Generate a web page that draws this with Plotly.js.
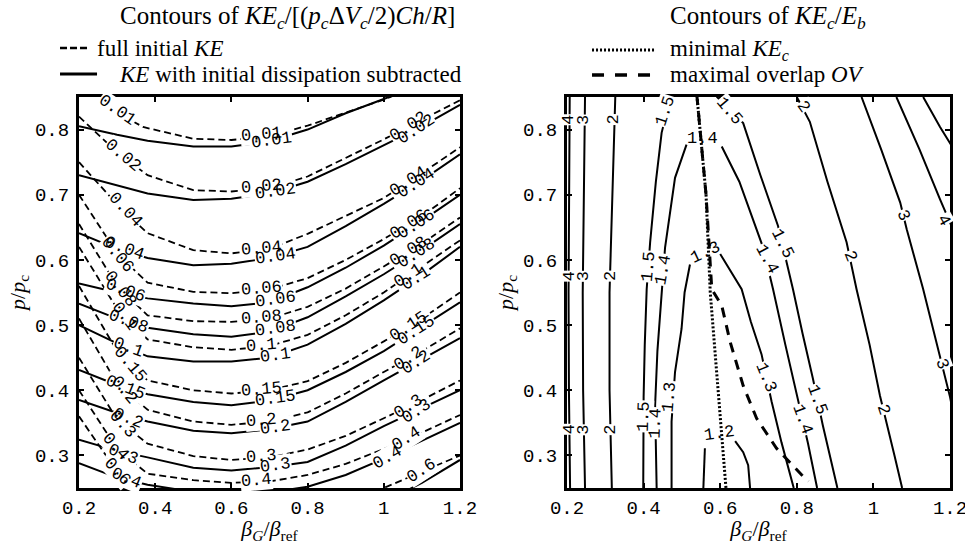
<!DOCTYPE html>
<html><head><meta charset="utf-8">
<script src="https://cdn.plot.ly/plotly-3.0.1.min.js"></script>
<style>html,body{margin:0;padding:0;background:#fff}#c{width:965px;height:544px}</style>
</head><body><div id="c"></div>
<script>
// ---------- LEFT PANEL DATA : KE_c / [(p_c dV_c/2) Ch/R] ----------
const levelsKE = ['0.01','0.02','0.04','0.06','0.08','0.1','0.15','0.2','0.3','0.4','0.6'];
const xsKE      = [0.2,0.3,0.38,0.5,0.6,0.7,0.8,0.9,1.0,1.1,1.2];
const xsFirstFull = [0.24,0.30,0.368,0.5,0.6,0.7,0.8,0.9,1.0,1.05];
const xsLastNet   = [0.9,1.0,1.1,1.2];
// full initial KE (dashed)
const fullKEy = [
  [0.87,0.826,0.804,0.786,0.784,0.79,0.806,0.826,0.846,0.858],
  [0.82,0.765,0.73,0.707,0.705,0.71,0.728,0.756,0.785,0.815,0.845],
  [0.75,0.685,0.641,0.615,0.61,0.617,0.64,0.667,0.695,0.733,0.773],
  [0.70,0.61,0.565,0.551,0.549,0.555,0.572,0.60,0.632,0.667,0.71],
  [0.655,0.56,0.515,0.506,0.505,0.51,0.528,0.556,0.59,0.625,0.665],
  [0.62,0.525,0.478,0.466,0.462,0.468,0.485,0.515,0.55,0.59,0.63],
  [0.56,0.46,0.415,0.40,0.395,0.40,0.414,0.442,0.475,0.51,0.55],
  [0.51,0.41,0.37,0.352,0.347,0.352,0.366,0.395,0.428,0.46,0.495],
  [0.45,0.355,0.318,0.299,0.293,0.297,0.309,0.33,0.357,0.385,0.415],
  [0.40,0.31,0.272,0.262,0.258,0.26,0.27,0.287,0.31,0.335,0.362],
  [0.36,0.275,0.235,0.212,0.205,0.205,0.212,0.228,0.25,0.275,0.30]
];
// KE with initial dissipation subtracted (solid)
const netKEy = [
  [0.805,0.792,0.783,0.774,0.774,0.782,0.80,0.825,0.847,0.87,0.89],
  [0.73,0.714,0.702,0.692,0.694,0.702,0.72,0.747,0.776,0.805,0.838],
  [0.641,0.617,0.603,0.592,0.594,0.603,0.62,0.652,0.686,0.722,0.762],
  [0.564,0.55,0.541,0.533,0.529,0.535,0.558,0.588,0.622,0.66,0.70],
  [0.533,0.51,0.496,0.486,0.482,0.49,0.512,0.544,0.578,0.615,0.655],
  [0.50,0.472,0.452,0.444,0.444,0.45,0.47,0.502,0.538,0.577,0.62],
  [0.431,0.408,0.394,0.382,0.377,0.384,0.40,0.428,0.46,0.497,0.535],
  [0.385,0.365,0.352,0.338,0.334,0.34,0.352,0.382,0.415,0.447,0.48],
  [0.324,0.307,0.297,0.281,0.277,0.282,0.29,0.315,0.345,0.372,0.40],
  [0.288,0.266,0.255,0.244,0.241,0.243,0.252,0.27,0.295,0.322,0.35],
  [0.205,0.228,0.258,0.293]
];

// ---------- RIGHT PANEL DATA : KE_c / E_b ----------
const ratioLevels = ['4','3','2','1.5','1.4','1.3','1.2','2','3','4','5'];
const ratioX = [
  [0.207,0.205,0.204,0.205,0.208],
  [0.247,0.244,0.241,0.242,0.247],
  [0.326,0.318,0.311,0.311,0.317],
  [0.399,0.399,0.400,0.403,0.408,0.417,0.432,0.447,0.47,0.53,0.592,0.66,0.705,0.751,0.79,0.815,0.842,0.868,0.904,0.906],
  [0.434,0.432,0.43,0.436,0.447,0.456,0.482,0.512,null,0.604,0.65,0.712,0.738,0.77,0.803,0.829,0.853],
  [0.473,0.473,0.482,0.499,0.507,0.521,null,0.60,0.63,0.656,0.68,0.708,0.734,0.76,0.792],
  [0.556,0.558,0.56,null,0.639,0.66,0.673,0.678],
  [0.80,0.834,0.88,0.93,0.956,0.99,1.017,1.035,1.055,1.075],
  [0.969,1.02,1.07,1.087,1.13,1.17,1.2,1.23],
  [1.06,1.12,1.174,1.22],
  [1.13,1.174,1.22]
];
const ratioY = [
  [0.85,0.7,0.55,0.4,0.25],
  [0.85,0.7,0.55,0.4,0.25],
  [0.85,0.7,0.55,0.4,0.25],
  [0.25,0.32,0.39,0.47,0.555,0.627,0.72,0.795,0.85,0.895,0.85,0.81,0.73,0.652,0.555,0.487,0.418,0.346,0.255,0.25],
  [0.25,0.31,0.377,0.46,0.545,0.619,0.726,0.777,null,0.774,0.72,0.619,0.555,0.47,0.387,0.319,0.25],
  [0.25,0.352,0.428,0.494,0.55,0.593,null,0.609,0.58,0.555,0.505,0.455,0.383,0.32,0.25],
  [0.25,0.29,0.311,null,0.322,0.305,0.285,0.25],
  [0.85,0.812,0.72,0.627,0.555,0.47,0.392,0.346,0.30,0.25],
  [0.85,0.77,0.688,0.647,0.555,0.46,0.39,0.30],
  [0.85,0.77,0.693,0.63],
  [0.85,0.804,0.76]
];
const minKEx = [0.539,0.55,0.563,0.574,0.594,0.615];
const minKEy = [0.853,0.78,0.70,0.55,0.403,0.25];
const maxOVx = [0.539,0.55,0.563,0.578,0.604,0.626,0.66,0.695,0.747,0.813,0.83];
const maxOVy = [0.853,0.78,0.70,0.555,0.53,0.474,0.407,0.357,0.311,0.27,0.26];

// ---------- tick labels ----------
const xTickVals = [0.2,0.4,0.6,0.8,1,1.2];
const xTickText = ['0.2','0.4','0.6','0.8','1','1.2'];
const yTickVals = [0.3,0.4,0.5,0.6,0.7,0.8];
const yTickText = ['0.3','0.4','0.5','0.6','0.7','0.8'];

// ---------- contour label texts ----------
const fullLabelText = ['0.01','0.02','0.04','0.06','0.08','0.1','0.15','0.2','0.3','0.4','0.6',
  '0.01','0.02','0.04','0.06','0.08','0.1','0.15','0.2','0.3','0.4',
  '0.02','0.04','0.06','0.08','0.1','0.15','0.2','0.3','0.4','0.6'];
const netLabelText = ['0.04','0.06','0.08','0.1','0.15','0.2','0.3','0.4',
  '0.01','0.02','0.04','0.06','0.08','0.1','0.15','0.2','0.3',
  '0.02','0.04','0.06','0.08','0.1','0.15','0.2','0.3','0.4'];
const ratioLabelText = ['4','4','4','3','3','3','2','2','2','1.5','1.5','1.5','1.4','1.4','1.3',
  '1.3','1.4','1.4','1.5','1.5','1.5','2','2','2','3','3','4','1.4','1.3','1.2'];

// ---------- label placement (x, y, angle, background) ----------
const fullLabelPos = [
 [0.302,0.83,35],[0.316,0.761,40],[0.321,0.677,47],[0.30,0.608,50],[0.31,0.555,52],[0.32,0.513,53],
 [0.335,0.44,50],[0.32,0.40,50],[0.315,0.347,48],[0.295,0.313,48],[0.30,0.275,48],
 [0.68,0.792,-5],[0.68,0.713,-5],[0.68,0.618,-5],[0.68,0.556,-5],[0.68,0.511,-5],[0.68,0.469,-5],
 [0.68,0.401,-5],[0.68,0.353,-5],[0.68,0.298,-5],[0.665,0.262,-5],
 [1.065,0.805,-33],[1.065,0.72,-33],[1.065,0.655,-33],[1.065,0.613,-33],[1.065,0.576,-33],
 [1.065,0.498,-33],[1.065,0.449,-33],[1.065,0.375,-33],[1.06,0.326,-33],[1.1,0.277,-33]
];
const netLabelPos = [
 [0.32,0.617,20],[0.321,0.553,20],[0.329,0.505,20],[0.329,0.465,20],[0.321,0.404,22],
 [0.329,0.357,22],[0.316,0.302,22],[0.325,0.264,22],
 [0.705,0.784,-8],[0.715,0.705,-8],[0.715,0.606,-8],[0.715,0.54,-8],[0.715,0.495,-8],
 [0.715,0.454,-8],[0.715,0.387,-8],[0.715,0.343,-8],[0.715,0.285,-8],
 [1.085,0.80,-33],[1.085,0.717,-33],[1.085,0.654,-33],[1.085,0.61,-33],[1.085,0.571,-33],
 [1.085,0.491,-33],[1.085,0.442,-33],[1.085,0.368,-33],[1.01,0.297,-30]
];
const ratioLabelPos = [
 [0.205,0.815,-90,1],[0.205,0.575,-90,1],[0.205,0.34,-90,1],
 [0.245,0.815,-90,1],[0.242,0.575,-90,1],[0.243,0.34,-90,1],
 [0.322,0.815,-90,1],[0.312,0.575,-90,1],[0.313,0.34,-90,1],
 [0.456,0.828,-72,1],[0.413,0.59,-85,1],[0.40,0.36,-88,1],
 [0.452,0.585,-80,1],[0.432,0.35,-88,1],[0.468,0.39,-85,1],
 [0.72,0.42,68,1],[0.722,0.60,62,1],[0.815,0.355,70,1],
 [0.625,0.828,50,1],[0.762,0.625,63,1],[0.855,0.385,70,1],
 [0.816,0.835,55,1],[0.94,0.605,68,1],[1.025,0.37,72,1],
 [1.078,0.668,65,1],[1.18,0.44,70,1],[1.183,0.66,60,1],
 [0.555,0.786,0,0],[0.562,0.612,-25,0],[0.599,0.333,-8,0]
];

// ---------- build traces ----------
const traces = [];
const lineBase = {type:'scatter', mode:'lines', hoverinfo:'skip', showlegend:false};
levelsKE.forEach((lv,i)=>{
  traces.push(Object.assign({}, lineBase, {
    x: i===0 ? xsFirstFull : xsKE, y: fullKEy[i], xaxis:'x', yaxis:'y', name:'full '+lv,
    line:{color:'#000', width:1.8, dash:'7px,4px'}}));
  traces.push(Object.assign({}, lineBase, {
    x: i===levelsKE.length-1 ? xsLastNet : xsKE, y: netKEy[i], xaxis:'x', yaxis:'y', name:'net '+lv,
    line:{color:'#000', width:2}}));
});
ratioLevels.forEach((lv,i)=>{
  traces.push(Object.assign({}, lineBase, {x: ratioX[i], y: ratioY[i], xaxis:'x2', yaxis:'y2',
    name:'ratio '+lv, connectgaps:false, line:{color:'#000', width:2}}));
});
traces.push(Object.assign({}, lineBase, {x:maxOVx, y:maxOVy, xaxis:'x2', yaxis:'y2', name:'maximal overlap',
  line:{color:'#000', width:3, dash:'10px,8px'}}));
traces.push(Object.assign({}, lineBase, {x:minKEx, y:minKEy, xaxis:'x2', yaxis:'y2', name:'minimal KE',
  line:{color:'#000', width:3, dash:'2px,2px'}}));

// ---------- labels ----------
const bgAnn = [], txtAnn = [];
const labFont = {family:'Liberation Mono, DejaVu Sans Mono, monospace', size:17, color:'#000'};
function addLabel(xr, yr, text, p){
  const bg = p.length < 4 || p[3];
  const base = {xref:xr, yref:yr, x:p[0], y:p[1], text:text, textangle:p[2], showarrow:false,
    xanchor:'center', yanchor:'middle', borderpad:0};
  if (bg) bgAnn.push(Object.assign({}, base, {bgcolor:'#fff', font:Object.assign({}, labFont, {color:'rgba(0,0,0,0)'})}));
  txtAnn.push(Object.assign({}, base, {font:labFont}));
}
fullLabelText.forEach((t,i)=>addLabel('x','y',t,fullLabelPos[i]));
netLabelText.forEach((t,i)=>addLabel('x','y',t,netLabelPos[i]));
ratioLabelText.forEach((t,i)=>addLabel('x2','y2',t,ratioLabelPos[i]));

// ---------- titles & legends ----------
const serifT = {family:'Liberation Serif, Times New Roman, serif', size:25, color:'#000'};
const serifL = {family:'Liberation Serif, Times New Roman, serif', size:23, color:'#000'};
const head = [
  {x:0.0448, y:1.2046, font:serifT, text:'Contours of <i>KE</i><sub><i>c</i></sub>/[(<i>p</i><sub><i>c</i></sub>Δ<i>V</i><sub><i>c</i></sub>/2)<i>Ch</i>/<i>R</i>]'},
  {x:0.0184, y:1.1253, font:serifL, text:'full initial <i>KE</i>'},
  {x:0.0436, y:1.0588, font:serifL, text:'<i>KE</i> with initial dissipation subtracted'},
  {x:0.6762, y:1.2046, font:serifT, text:'Contours of <i>KE</i><sub><i>c</i></sub>/<i>E</i><sub><i>b</i></sub>'},
  {x:0.6762, y:1.1202, font:serifL, text:'minimal <i>KE</i><sub><i>c</i></sub>'},
  {x:0.6762, y:1.0563, font:serifL, text:'maximal overlap <i>OV</i>'}
].map(a=>Object.assign({xref:'paper', yref:'paper', xanchor:'left', yanchor:'middle', showarrow:false}, a));

const shapes = [
  {type:'line', xref:'paper', yref:'paper', x0:-0.0218, x1:0.0126, y0:1.1253, y1:1.1253, line:{color:'#000', width:2.5, dash:'7px,3px'}},
  {type:'line', xref:'paper', yref:'paper', x0:-0.0218, x1:0.0207, y0:1.0588, y1:1.0588, line:{color:'#000', width:3}},
  {type:'line', xref:'paper', yref:'paper', x0:0.589, x1:0.661, y0:1.1202, y1:1.1202, line:{color:'#000', width:3, dash:'2px,2px'}},
  {type:'line', xref:'paper', yref:'paper', x0:0.589, x1:0.661, y0:1.0563, y1:1.0563, line:{color:'#000', width:3.5, dash:'12px,11px'}}
];

const tickFont = {family:'Liberation Mono, DejaVu Sans Mono, monospace', size:19, color:'#000'};
const axTitleFont = {family:'Liberation Serif, serif', size:22, color:'#000'};
function xax(dom, anchor){ return {domain:dom, anchor:anchor, range:[0.2,1.2],
  tickmode:'array', tickvals:xTickVals, ticktext:xTickText, ticklabeloverflow:'allow',
  showline:true, mirror:'ticks', linewidth:3, linecolor:'#000', ticks:'inside', ticklen:5, tickwidth:2,
  tickcolor:'#000', showgrid:false, zeroline:false, tickfont:tickFont, ticklabelstandoff:0,
  title:{text:'<i>β</i><sub><i>G</i></sub>/<i>β</i><sub>ref</sub>', font:axTitleFont, standoff:2}}; }
function yax(anchor){ return {domain:[0,1], anchor:anchor, range:[0.25,0.85],
  tickmode:'array', tickvals:yTickVals, ticktext:yTickText,
  showline:true, mirror:'ticks', linewidth:3, linecolor:'#000', ticks:'inside', ticklen:5, tickwidth:2,
  tickcolor:'#000', showgrid:false, zeroline:false, tickfont:tickFont, ticklabelstandoff:3,
  title:{text:'<i>p</i>/<i>p</i><sub>c</sub>', font:axTitleFont, standoff:4}}; }

const layout = {
  width:965, height:544, paper_bgcolor:'#fff', plot_bgcolor:'#fff',
  margin:{l:79, r:15, t:97, b:56}, showlegend:false,
  xaxis: xax([0,0.4374],'y'), yaxis: yax('x'),
  xaxis2: xax([0.5603,1],'y2'), yaxis2: yax('x2'),
  annotations: bgAnn.concat(txtAnn, head), shapes: shapes
};
Plotly.newPlot('c', traces, layout, {staticPlot:true});
</script></body></html>
